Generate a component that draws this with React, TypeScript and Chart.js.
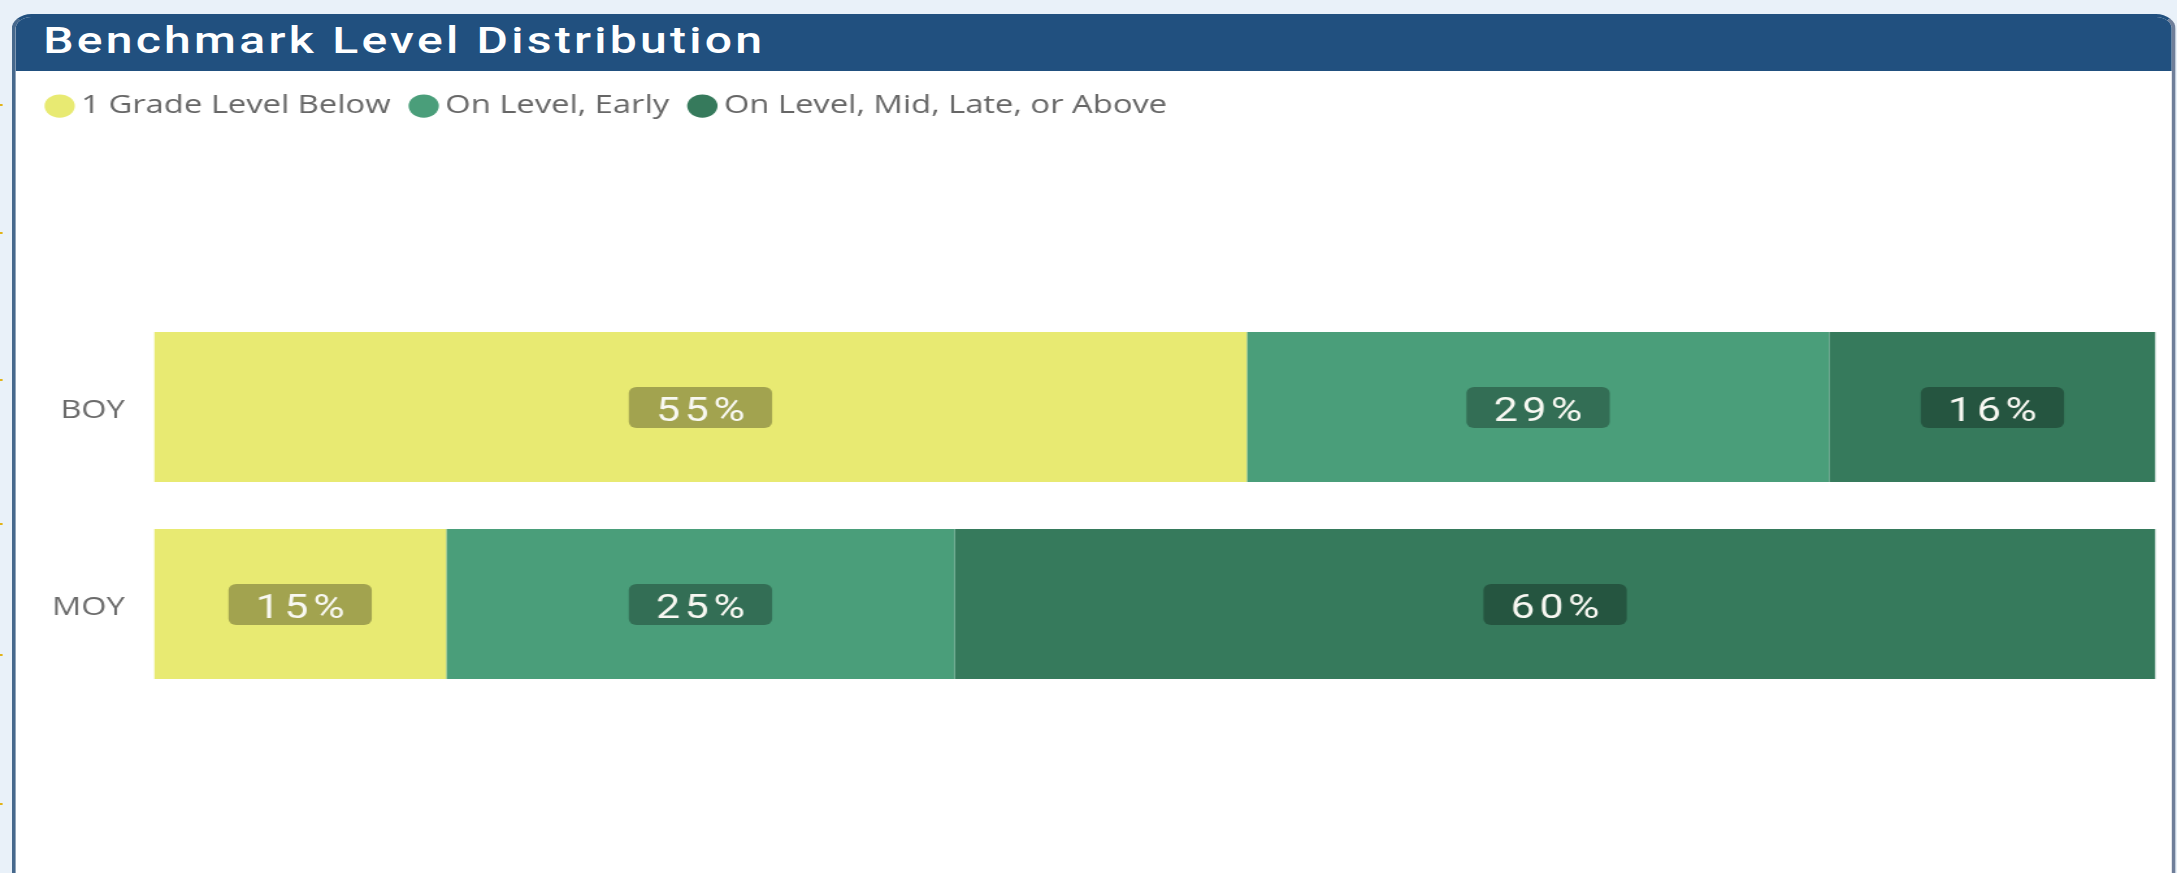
import React, { useEffect, useRef } from 'react';
import { Chart, registerables } from 'chart.js';

Chart.register(...registerables);

// ---- data (percent shares; labels show rounded values) ----
const categories = ['BOY', 'MOY'];
const seriesNames = ['1 Grade Level Below', 'On Level, Early', 'On Level, Mid, Late, or Above'];
const gradeBelow = [54.6, 14.6];
const onLevelEarly = [29.1, 25.4];
const onLevelMidAbove = [16.3, 60.0];
const seriesColors = ['#E8EA72', '#4A9E7A', '#367A5C'];
const titleText = 'Benchmark Level Distribution';
const tickMarksY = [104, 232, 379, 523, 654, 803];

// the reference is horizontally stretched; lay out at natural width and stretch
const NAT_W = 1675;
const SX = 2177 / NAT_W;

export default function App() {
  const canvasRef = useRef<HTMLCanvasElement | null>(null);

  useEffect(() => {
    document.body.style.margin = '0';
    document.body.style.overflow = 'hidden';
    document.documentElement.style.overflow = 'hidden';
    const canvas = canvasRef.current;
    if (!canvas) return;

    const legendHeight = {
      id: 'legendHeight',
      beforeInit(chart: any) {
        const legend = chart.legend;
        if (!legend) return;
        const origFit = legend.fit;
        legend.fit = function () {
          origFit.call(this);
          this.height = 236.5;
        };
      },
    };

    const segLabels = {
      id: 'segLabels',
      afterDatasetsDraw(chart: any) {
        const ctx = chart.ctx;
        chart.data.datasets.forEach((ds: any, di: number) => {
          const meta = chart.getDatasetMeta(di);
          meta.data.forEach((bar: any, i: number) => {
            const v = ds.data[i];
            const p = bar.getProps(['x', 'base', 'y'], true);
            const cx = (p.x + p.base) / 2;
            const cy = p.y;
            const text = `${Math.round(v)}%`;
            ctx.save();
            ctx.font = '400 33px Roboto';
            (ctx as any).letterSpacing = '3.5px';
            const tw = ctx.measureText(text).width - 3.5;
            const w = tw + 42;
            const h = 41;
            ctx.fillStyle = 'rgba(0,0,0,0.3)';
            ctx.beginPath();
            (ctx as any).roundRect(cx - w / 2, cy + 0.5 - h / 2, w, h, 6);
            ctx.fill();
            ctx.fillStyle = '#F8F8F2';
            ctx.textAlign = 'left';
            ctx.textBaseline = 'alphabetic';
            ctx.fillText(text, cx - tw / 2, cy + 13.5);
            ctx.restore();
          });
        });
      },
    };

    const chart = new Chart(canvas, {
      type: 'bar',
      data: {
        labels: categories,
        datasets: [
          { label: seriesNames[0], data: gradeBelow, backgroundColor: seriesColors[0], borderWidth: 0 },
          { label: seriesNames[1], data: onLevelEarly, backgroundColor: seriesColors[1], borderWidth: 0 },
          { label: seriesNames[2], data: onLevelMidAbove, backgroundColor: seriesColors[2], borderWidth: 0 },
        ],
      },
      options: {
        indexAxis: 'y',
        animation: false,
        responsive: true,
        maintainAspectRatio: false,
        datasets: {
          bar: { categoryPercentage: 1, barPercentage: 0.7614 },
        },
        layout: {
          padding: { left: 20.4, right: 16.5, top: 0, bottom: 170.5 },
        },
        scales: {
          x: {
            stacked: true,
            min: 0,
            max: 100,
            display: false,
          },
          y: {
            stacked: true,
            grid: { display: false, drawTicks: false },
            border: { display: false },
            ticks: {
              padding: 22.5,
              labelOffset: 4,
              color: '#6B6B6B',
              font: { family: '"Segoe UI", "Open Sans", sans-serif', size: 25 },
            },
            afterFit(scale: any) {
              scale.width = 98.1;
            },
          },
        },
        plugins: {
          legend: {
            display: true,
            position: 'top',
            align: 'start',
            labels: {
              usePointStyle: true,
              pointStyle: 'circle',
              boxWidth: 8,
              boxHeight: 16.5,
              padding: 21.5,
              color: '#666666',
              font: { family: '"Segoe UI", "Open Sans", sans-serif', size: 25.2 },
            },
          },
          tooltip: { enabled: false },
        },
      },
      plugins: [legendHeight, segLabels],
    });

    return () => {
      chart.destroy();
    };
  }, []);

  return (
    <div
      style={{
        position: 'absolute',
        left: 0,
        top: 0,
        width: NAT_W,
        height: 873,
        transform: `scaleX(${SX})`,
        transformOrigin: '0 0',
        background: '#E9F1F9',
        overflow: 'hidden',
      }}
    >
      {tickMarksY.map((ty) => (
        <div
          key={ty}
          style={{ position: 'absolute', left: 0, top: ty, width: 2.3, height: 2, background: '#E2B41A' }}
        />
      ))}
      <div
        style={{
          position: 'absolute',
          left: 9.2,
          top: 14,
          width: 1664.6,
          height: 880,
          boxSizing: 'border-box',
          border: '3px solid #46688C',
          borderRightColor: '#6F7E99',
          borderTopColor: '#21507F',
          borderRadius: 15,
          background: '#FFFFFF',
          overflow: 'hidden',
        }}
      >
        <div
          style={{
            position: 'absolute',
            left: 0,
            top: 0,
            right: 0,
            height: 54,
            background: '#21507F',
          }}
        />
        <div
          style={{
            position: 'absolute',
            left: 21,
            top: 5,
            lineHeight: '37px',
            fontFamily: 'Roboto, sans-serif',
            fontWeight: 500,
            fontSize: 37,
            letterSpacing: '2.5px',
            color: '#FFFFFF',
            whiteSpace: 'nowrap',
          }}
        >
          {titleText}
        </div>
      </div>
      <div style={{ position: 'absolute', left: 0, top: 72, width: NAT_W, height: 801 }}>
        <canvas ref={canvasRef} />
      </div>
    </div>
  );
}
